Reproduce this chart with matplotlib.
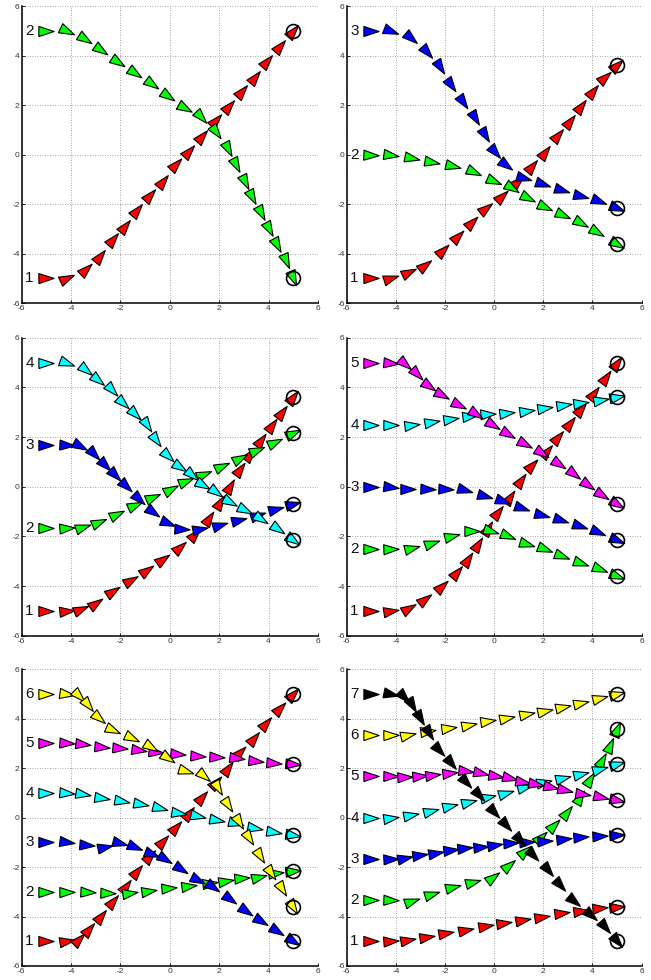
import matplotlib
matplotlib.use("Agg")
import matplotlib.pyplot as plt
import numpy as np
from matplotlib.markers import MarkerStyle
from matplotlib.transforms import Affine2D

plt.rcParams['font.family'] = ['Liberation Sans', 'DejaVu Sans']
plt.rcParams['axes.unicode_minus'] = False

RED, GREEN, BLUE = '#ff0000', '#00ff00', '#0000ff'
CYAN, MAGENTA, YELLOW, BLACK = '#00ffff', '#ff00ff', '#ffff00', '#000000'

# panel 1: two paths
a_colors = [RED, GREEN]
a_x = [
    [-5, -4.18, -3.40, -2.83, -2.29, -1.82, -1.32, -0.81, -0.27, 0.27, 0.78, 1.32, 1.89, 2.40, 2.94, 3.44, 3.95, 4.48, 5.0],
    [-5, -4.18, -3.44, -2.77, -2.09, -1.42, -0.74, -0.07, 0.61, 1.28, 1.86, 2.36, 2.70, 3.03, 3.34, 3.68, 4.01, 4.35, 4.69, 5.0],
]
a_y = [
    [-5, -4.99, -4.63, -4.09, -3.42, -2.87, -2.26, -1.65, -1.05, -0.39, 0.15, 0.75, 1.40, 1.96, 2.57, 3.15, 3.78, 4.39, 5.0],
    [5, 5.0, 4.65, 4.22, 3.75, 3.31, 2.85, 2.37, 1.90, 1.53, 0.90, 0.22, -0.44, -1.09, -1.72, -2.37, -3.01, -3.65, -4.29, -5.0],
]

# panel 2: three paths
b_colors = [RED, GREEN, BLUE]
b_x = [
    [-5, -4.18, -3.47, -2.82, -2.07, -1.46, -0.92, -0.34, 0.30, 0.95, 1.55, 2.06, 2.58, 3.08, 3.55, 4.03, 4.50, 5.0],
    [-5, -4.18, -3.33, -2.52, -1.67, -0.81, 0.0, 0.73, 1.38, 2.06, 2.81, 3.55, 4.20, 5.0],
    [-5, -4.18, -3.39, -2.75, -2.21, -1.74, -1.26, -0.79, -0.38, 0.03, 0.50, 1.22, 1.99, 2.74, 3.53, 4.26, 5.0],
]
b_y = [
    [-5, -4.99, -4.76, -4.45, -3.87, -3.28, -2.74, -2.17, -1.67, -1.06, -0.48, 0.12, 0.79, 1.37, 1.96, 2.58, 3.15, 3.6],
    [0, -0.03, -0.15, -0.32, -0.48, -0.69, -1.05, -1.36, -1.76, -2.10, -2.44, -2.77, -3.13, -3.6],
    [5, 5.0, 4.70, 4.16, 3.55, 2.81, 2.14, 1.47, 0.79, 0.12, -0.42, -0.96, -1.18, -1.43, -1.67, -1.86, -2.15],
]

# panel 3: four paths
c_colors = [RED, GREEN, BLUE, CYAN]
c_x = [
    [-5, -4.18, -3.60, -2.97, -2.29, -1.58, -0.94, -0.27, 0.40, 1.01, 1.59, 2.02, 2.43, 2.83, 3.26, 3.71, 4.15, 4.56, 5.0],
    [-5, -4.18, -3.53, -2.86, -2.13, -1.42, -0.67, 0.04, 0.67, 1.38, 2.13, 2.86, 3.53, 4.25, 5.0],
    [-5, -4.18, -3.64, -3.06, -2.63, -2.22, -1.78, -1.24, -0.67, -0.07, 0.51, 1.21, 2.02, 2.80, 3.57, 4.29, 5.0],
    [-5, -4.18, -3.40, -2.90, -2.36, -1.89, -1.42, -0.94, -0.54, -0.07, 0.40, 0.88, 1.35, 1.86, 2.43, 3.03, 3.71, 4.38, 5.0],
]
c_y = [
    [-5, -5.0, -4.94, -4.67, -4.20, -3.74, -3.37, -2.90, -2.43, -1.89, -1.26, -0.62, 0.05, 0.72, 1.30, 1.87, 2.47, 3.03, 3.6],
    [-1.67, -1.67, -1.62, -1.40, -1.09, -0.75, -0.42, -0.11, 0.23, 0.52, 0.82, 1.15, 1.50, 1.80, 2.15],
    [1.67, 1.67, 1.64, 1.33, 0.89, 0.48, 0.03, -0.48, -1.02, -1.45, -1.69, -1.72, -1.56, -1.32, -1.13, -0.89, -0.7],
    [5, 5.0, 4.72, 4.32, 3.88, 3.38, 2.94, 2.47, 1.87, 1.23, 0.79, 0.48, 0.08, -0.21, -0.62, -0.95, -1.29, -1.72, -2.15],
]

# panel 4: five paths
d_colors = [RED, GREEN, BLUE, CYAN, MAGENTA]
d_x = [
    [-5, -4.18, -3.47, -2.82, -2.14, -1.53, -1.06, -0.65, -0.24, 0.16, 0.64, 1.11, 1.55, 2.13, 2.60, 3.08, 3.55, 4.07, 4.57, 5.0],
    [-5, -4.18, -3.34, -2.52, -1.71, -0.92, -0.11, 0.57, 1.32, 2.06, 2.77, 3.53, 4.30, 5.0],
    [-5, -4.18, -3.50, -2.71, -1.94, -1.17, -0.38, 0.37, 1.14, 1.95, 2.71, 3.48, 4.23, 5.0],
    [-5, -4.18, -3.34, -2.55, -1.74, -0.99, -0.24, 0.54, 1.32, 2.06, 2.85, 3.55, 4.34, 5.0],
    [-5, -4.18, -3.63, -3.16, -2.66, -2.14, -1.44, -0.72, -0.04, 0.57, 1.25, 1.95, 2.63, 3.25, 3.82, 4.39, 5.0],
]
d_y = [
    [-5, -5.0, -4.89, -4.51, -4.0, -3.44, -2.90, -2.30, -1.66, -1.02, -0.42, 0.26, 0.86, 1.46, 2.0, 2.56, 3.14, 3.77, 4.41, 5.0],
    [-2.5, -2.5, -2.47, -2.26, -1.99, -1.79, -1.79, -2.0, -2.30, -2.52, -2.79, -3.07, -3.33, -3.6],
    [0, 0, -0.08, -0.08, -0.11, -0.15, -0.38, -0.59, -0.86, -1.13, -1.33, -1.58, -1.83, -2.15],
    [2.5, 2.5, 2.5, 2.60, 2.74, 2.85, 2.94, 2.98, 3.07, 3.17, 3.28, 3.38, 3.48, 3.6],
    [5, 5.0, 4.95, 4.55, 4.04, 3.68, 3.30, 2.94, 2.50, 2.13, 1.73, 1.36, 0.93, 0.52, 0.08, -0.32, -0.7],
]

# panel 5: six paths
e_colors = [RED, GREEN, BLUE, CYAN, MAGENTA, YELLOW]
e_x = [
    [-5, -4.18, -3.67, -3.26, -2.80, -2.29, -1.78, -1.31, -0.81, -0.27, 0.27, 0.78, 1.32, 1.86, 2.36, 2.86, 3.40, 3.91, 4.45, 5.0],
    [-5, -4.18, -3.30, -2.49, -1.62, -0.84, -0.03, 0.78, 1.62, 2.29, 2.94, 3.61, 4.29, 5.0],
    [-5, -4.18, -3.37, -2.63, -2.02, -1.42, -0.74, -0.20, 0.47, 1.15, 1.75, 2.43, 3.07, 3.71, 4.34, 5.0],
    [-5, -4.18, -3.53, -2.76, -1.95, -1.15, -0.38, 0.38, 1.15, 1.91, 2.67, 3.44, 4.21, 5.0],
    [-5, -4.18, -3.53, -2.76, -2.02, -1.24, -0.54, 0.34, 1.15, 1.91, 2.72, 3.48, 4.21, 5.0],
    [-5, -4.18, -3.67, -3.30, -2.86, -2.29, -1.55, -0.78, -0.07, 0.67, 1.38, 1.96, 2.36, 2.80, 3.21, 3.67, 4.11, 4.56, 5.0],
]
e_y = [
    [-5, -5.0, -4.92, -4.51, -3.98, -3.36, -2.76, -2.14, -1.55, -0.94, -0.36, 0.20, 0.85, 1.46, 1.99, 2.67, 3.21, 3.81, 4.42, 5.0],
    [-3, -3.0, -2.99, -3.03, -3.06, -2.95, -2.83, -2.76, -2.65, -2.56, -2.45, -2.39, -2.22, -2.15],
    [-1, -1.0, -1.11, -1.17, -1.04, -1.20, -1.47, -1.68, -2.09, -2.52, -2.82, -3.30, -3.76, -4.20, -4.58, -5.0],
    [1, 1.0, 0.94, 0.81, 0.69, 0.54, 0.40, 0.20, 0.08, -0.09, -0.23, -0.43, -0.57, -0.7],
    [3, 3.0, 2.96, 2.87, 2.80, 2.74, 2.64, 2.56, 2.49, 2.44, 2.40, 2.30, 2.22, 2.15],
    [5, 5.0, 4.93, 4.56, 4.02, 3.54, 3.21, 2.84, 2.40, 1.90, 1.68, 1.19, 0.51, -0.16, -0.84, -1.55, -2.25, -2.90, -3.6],
]

# panel 6: seven paths
f_colors = [RED, GREEN, BLUE, CYAN, MAGENTA, YELLOW, BLACK]
f_x = [
    [-5, -4.18, -3.50, -2.75, -1.94, -1.13, -0.34, 0.41, 1.18, 1.95, 2.74, 3.53, 4.30, 5.0],
    [-5, -4.18, -3.34, -2.55, -1.67, -0.85, -0.04, 0.60, 1.25, 1.90, 2.44, 2.98, 3.48, 3.89, 4.37, 4.71, 5.0],
    [-5, -4.18, -3.63, -3.02, -2.37, -1.76, -1.17, -0.54, 0.05, 0.68, 1.32, 2.06, 2.85, 3.55, 4.30, 5.0],
    [-5, -4.18, -3.39, -2.58, -1.80, -1.03, -0.24, 0.50, 1.25, 2.03, 2.81, 3.55, 4.30, 5.0],
    [-5, -4.18, -3.63, -3.02, -2.48, -1.80, -1.13, -0.52, 0.09, 0.64, 1.18, 1.72, 2.31, 2.90, 3.62, 4.34, 5.0],
    [-5, -4.18, -3.50, -2.71, -1.84, -1.03, -0.24, 0.54, 1.32, 2.06, 2.81, 3.55, 4.30, 5.0],
    [-5, -4.18, -3.66, -3.34, -3.02, -2.66, -2.24, -1.74, -1.13, -0.62, 0.0, 0.50, 1.04, 1.59, 2.17, 2.67, 3.25, 3.96, 4.50, 5.0],
]
f_y = [
    [-5, -5.0, -4.95, -4.81, -4.68, -4.54, -4.38, -4.25, -4.14, -4.0, -3.87, -3.77, -3.67, -3.6],
    [-3.33, -3.33, -3.36, -3.09, -2.82, -2.61, -2.39, -1.91, -1.37, -0.80, -0.30, 0.24, 0.85, 1.55, 2.33, 2.94, 3.6],
    [-1.67, -1.67, -1.64, -1.51, -1.42, -1.31, -1.24, -1.17, -1.11, -1.01, -0.97, -0.93, -0.88, -0.80, -0.74, -0.7],
    [0, 0, 0.11, 0.27, 0.47, 0.65, 0.85, 1.01, 1.23, 1.42, 1.59, 1.77, 1.95, 2.15],
    [1.67, 1.67, 1.66, 1.68, 1.73, 1.82, 1.90, 1.82, 1.68, 1.59, 1.46, 1.36, 1.25, 1.12, 0.96, 0.85, 0.7],
    [3.33, 3.33, 3.34, 3.52, 3.64, 3.75, 3.91, 4.02, 4.18, 4.33, 4.49, 4.65, 4.82, 5.0],
    [5, 5.0, 4.89, 4.56, 4.02, 3.41, 2.74, 2.20, 1.46, 0.92, 0.24, -0.30, -0.90, -1.51, -2.12, -2.72, -3.36, -3.94, -4.41, -5.0],
]

panels = [
    (a_x, a_y, a_colors), (b_x, b_y, b_colors),
    (c_x, c_y, c_colors), (d_x, d_y, d_colors),
    (e_x, e_y, e_colors), (f_x, f_y, f_colors),
]

# axes rectangles in figure fractions (left, bottom, width, height)
cols = [(0.0333, 0.455), (0.5326, 0.453)]
rows = [(0.6908, 0.303), (0.3513, 0.304), (0.0143, 0.3028)]

# arrow head: tip at +x, centred on the point
tri = [(-1, -0.66), (1, 0), (-1, 0.66), (-1, -0.66)]

fig = plt.figure(figsize=(6.51, 9.8), dpi=100)

for k, (px, py, colors) in enumerate(panels):
    r, c = divmod(k, 2)
    ax = fig.add_axes([cols[c][0], rows[r][0], cols[c][1], rows[r][1]])
    ax.set_xlim(-6, 6)
    ax.set_ylim(-6, 6)
    ticks = [-6, -4, -2, 0, 2, 4, 6]
    ax.set_xticks(ticks)
    ax.set_yticks(ticks)
    ax.grid(True, linestyle=(0, (1, 2)), color='#888888', linewidth=0.6)
    ax.set_axisbelow(True)
    for s in ['top', 'right']:
        ax.spines[s].set_visible(False)
    for s in ['left', 'bottom']:
        ax.spines[s].set_linewidth(1.1)
    ax.tick_params(direction='in', length=2.5, width=0.6, labelsize=6,
                   labelcolor='#333333', pad=1.5)

    for i, (xs, ys) in enumerate(zip(px, py)):
        xs = np.array(xs, dtype=float)
        ys = np.array(ys, dtype=float)
        pts = ax.transData.transform(np.column_stack([xs, ys]))
        n = len(xs)
        for j in range(n):
            if j < n - 1:
                d = pts[j + 1] - pts[j]
            else:
                d = pts[j] - pts[j - 1]
            ang = np.degrees(np.arctan2(d[1], d[0]))
            m = MarkerStyle(tri, transform=Affine2D().rotate_deg(ang))
            ax.plot(xs[j], ys[j], marker=m, markersize=11, color=colors[i],
                    markeredgecolor='black', markeredgewidth=0.8,
                    linestyle='none', zorder=3 + i * 0.01)
        ax.plot(xs[-1], ys[-1], marker='o', markersize=10, markerfacecolor='none',
                markeredgecolor='black', markeredgewidth=1.2, linestyle='none', zorder=5)
        ax.text(-5.68, ys[0], str(i + 1), fontsize=11, ha='center', va='center',
                color='#111111', zorder=6)

fig.savefig('out.png', dpi=100)
